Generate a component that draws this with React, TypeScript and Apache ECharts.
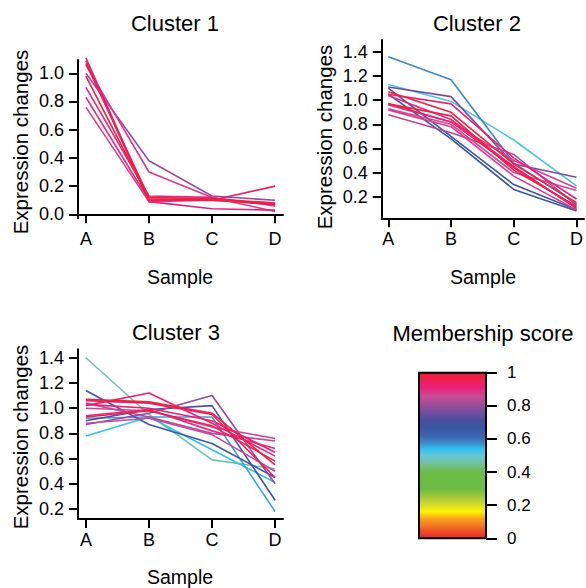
import React, { useEffect, useRef } from 'react';
import * as echarts from 'echarts';

const SAMPLES = ['A', 'B', 'C', 'D'];

// Cluster 1 profiles (A, B, C, D) and membership scores
const CLUSTER1_PROFILES = [
  [1.11, 0.10, 0.10, 0.20],
  [1.09, 0.09, 0.04, 0.03],
  [1.07, 0.12, 0.11, 0.08],
  [1.00, 0.38, 0.13, 0.10],
  [0.98, 0.11, 0.10, 0.07],
  [0.90, 0.13, 0.12, 0.06],
  [0.83, 0.10, 0.11, 0.07],
  [0.76, 0.09, 0.10, 0.08],
  [1.06, 0.30, 0.12, 0.02],
];
const CLUSTER1_MEMBERSHIP = [0.93, 0.92, 0.96, 0.8, 1.0, 0.9, 0.89, 0.87, 0.88];

const CLUSTER2_PROFILES = [
  [1.36, 1.17, 0.48, 0.14],
  [1.13, 0.99, 0.67, 0.29],
  [1.11, 1.03, 0.47, 0.36],
  [1.10, 0.70, 0.30, 0.09],
  [1.05, 0.68, 0.26, 0.08],
  [1.07, 0.90, 0.47, 0.15],
  [1.05, 0.97, 0.52, 0.18],
  [1.04, 0.84, 0.45, 0.10],
  [0.97, 0.87, 0.42, 0.12],
  [0.96, 0.82, 0.50, 0.27],
  [0.93, 0.80, 0.40, 0.25],
  [0.92, 0.78, 0.37, 0.09],
  [0.88, 0.73, 0.55, 0.13],
  [0.97, 0.82, 0.44, 0.11],
];
const CLUSTER2_MEMBERSHIP = [0.58, 0.52, 0.76, 0.68, 0.67, 1.0, 0.92, 0.9, 0.97, 0.87, 0.85, 0.88, 0.83, 0.95];

const CLUSTER3_PROFILES = [
  [1.40, 0.95, 0.59, 0.52],
  [1.14, 0.87, 0.72, 0.45],
  [0.78, 0.93, 0.67, 0.41],
  [0.92, 0.93, 0.93, 0.18],
  [0.90, 0.99, 1.02, 0.27],
  [0.87, 0.96, 1.10, 0.40],
  [1.02, 1.12, 0.88, 0.62],
  [1.07, 1.05, 0.96, 0.55],
  [1.06, 1.04, 0.95, 0.45],
  [1.00, 0.98, 0.85, 0.76],
  [1.04, 0.93, 0.80, 0.74],
  [0.94, 0.99, 0.82, 0.68],
  [0.93, 0.98, 0.86, 0.58],
  [1.03, 1.00, 0.90, 0.65],
  [0.88, 0.92, 0.79, 0.50],
];
const CLUSTER3_MEMBERSHIP = [0.47, 0.66, 0.54, 0.56, 0.7, 0.79, 0.92, 0.98, 0.95, 0.86, 0.84, 0.9, 0.97, 0.93, 0.85];

const Y_TICKS_1 = [0, 0.2, 0.4, 0.6, 0.8, 1.0];
const Y_TICKS_2 = [0.2, 0.4, 0.6, 0.8, 1.0, 1.2, 1.4];
const Y_TICKS_3 = [0.2, 0.4, 0.6, 0.8, 1.0, 1.2, 1.4];
const LEGEND_TICKS = [0, 0.2, 0.4, 0.6, 0.8, 1];

const PALETTE: [number, string][] = [
  [0.0, '#e8262a'], [0.04, '#ee4d27'], [0.08, '#f47a22'], [0.12, '#f9a51b'],
  [0.16, '#fff200'], [0.2, '#d7dc2a'], [0.25, '#a4c838'], [0.3, '#6cbb44'],
  [0.4, '#6bbd45'], [0.45, '#72c19a'], [0.5, '#66c8d8'], [0.54, '#30c0ef'],
  [0.58, '#3d85c6'], [0.62, '#3b63ad'], [0.67, '#3a55a4'], [0.72, '#4d4f9f'],
  [0.77, '#7c4c9e'], [0.81, '#a14d9a'], [0.86, '#cc4a95'], [0.91, '#ea1f7a'],
  [0.96, '#ee1f50'], [1.0, '#ef2037'],
];

function hexToRgb(h: string) {
  const n = parseInt(h.slice(1), 16);
  return [(n >> 16) & 255, (n >> 8) & 255, n & 255];
}
function colorFor(m: number) {
  for (let i = 1; i < PALETTE.length; i++) {
    const [v1, c1] = PALETTE[i];
    const [v0, c0] = PALETTE[i - 1];
    if (m <= v1) {
      const t = (m - v0) / (v1 - v0);
      const a = hexToRgb(c0), b = hexToRgb(c1);
      const r = a.map((x, k) => Math.round(x + (b[k] - x) * t));
      return `rgb(${r[0]},${r[1]},${r[2]})`;
    }
  }
  return PALETTE[PALETTE.length - 1][1];
}

const FONT = '"Liberation Sans", Arial, Helvetica, sans-serif';

export default function App() {
  const ref = useRef<HTMLDivElement>(null);
  useEffect(() => {
    const chart = echarts.init(ref.current!, null, { renderer: 'svg' });

    const panels = [
      { profiles: CLUSTER1_PROFILES, members: CLUSTER1_MEMBERSHIP, ticks: Y_TICKS_1, title: 'Cluster 1',
        grid: { left: 78, top: 60, width: 205, height: 158.3 }, xr: [0.875, 4.125], yr: [-0.028, 1.094],
        titlePos: [175, 23], xNamePos: [180, 277], yNamePos: [20, 142] },
      { profiles: CLUSTER2_PROFILES, members: CLUSTER2_MEMBERSHIP, ticks: Y_TICKS_2, title: 'Cluster 2',
        grid: { left: 381.7, top: 40, width: 203.5, height: 178.3 }, xr: [0.895, 4.12], yr: [0.02, 1.5],
        titlePos: [477, 23], xNamePos: [483, 277], yNamePos: [324, 137] },
      { profiles: CLUSTER3_PROFILES, members: CLUSTER3_MEMBERSHIP, ticks: Y_TICKS_3, title: 'Cluster 3',
        grid: { left: 78, top: 349.3, width: 205, height: 169.7 }, xr: [0.875, 4.125], yr: [0.121, 1.467],
        titlePos: [176, 332], xNamePos: [180, 577], yNamePos: [20, 437] },
    ];

    const axisLine = { show: true, lineStyle: { color: '#000', width: 2 } };
    const tickStyle = { color: '#000', width: 2 };
    const labelStyle = { color: '#000', fontFamily: FONT, fontSize: 18 };

    const grids: any[] = [];
    const xAxes: any[] = [];
    const yAxes: any[] = [];
    const series: any[] = [];
    const graphics: any[] = [];

    panels.forEach((p, gi) => {
      grids.push({ ...p.grid });
      xAxes.push({
        type: 'value', gridIndex: gi, min: p.xr[0], max: p.xr[1],
        axisLine, splitLine: { show: false },
        axisTick: { show: true, customValues: [1, 2, 3, 4], length: 9, lineStyle: tickStyle },
        axisLabel: { ...labelStyle, customValues: [1, 2, 3, 4], margin: 12,
          formatter: (v: number) => SAMPLES[Math.round(v) - 1] },
      });
      yAxes.push({
        type: 'value', gridIndex: gi, min: p.yr[0], max: p.yr[1],
        axisLine, splitLine: { show: false },
        axisTick: { show: true, customValues: p.ticks, length: 9, lineStyle: tickStyle },
        axisLabel: { ...labelStyle, customValues: p.ticks, margin: 14,
          formatter: (v: number) => v.toFixed(1) },
      });
      const order = p.members.map((m, i) => i).sort((a, b) => p.members[a] - p.members[b]);
      order.forEach((i) => {
        series.push({
          type: 'line', xAxisIndex: gi, yAxisIndex: gi, clip: false, symbol: 'none', silent: true,
          lineStyle: { color: colorFor(p.members[i]), width: 1.6 },
          data: p.profiles[i].map((v, k) => [k + 1, v]),
        });
      });
      graphics.push({ type: 'text', x: p.titlePos[0], y: p.titlePos[1],
        style: { text: p.title, fontSize: 22, fontFamily: FONT, fill: '#000', align: 'center', verticalAlign: 'middle', textAlign: 'center', textVerticalAlign: 'middle' } });
      graphics.push({ type: 'text', x: p.xNamePos[0], y: p.xNamePos[1],
        style: { text: 'Sample', fontSize: 19.5, fontFamily: FONT, fill: '#000', align: 'center', verticalAlign: 'middle', textAlign: 'center', textVerticalAlign: 'middle' } });
      graphics.push({ type: 'text', x: p.yNamePos[0], y: p.yNamePos[1], rotation: Math.PI / 2,
        style: { text: 'Expression changes', fontSize: 20.5, fontFamily: FONT, fill: '#000', align: 'center', verticalAlign: 'middle', textAlign: 'center', textVerticalAlign: 'middle' } });
    });

    // colour bar
    const cb = { left: 419, top: 372.7, width: 67, height: 165.6 };
    graphics.push({
      type: 'rect', shape: { x: cb.left, y: cb.top, width: cb.width, height: cb.height },
      style: {
        fill: new echarts.graphic.LinearGradient(0, 1, 0, 0, PALETTE.map(([o, c]) => ({ offset: o, color: c }))),
        stroke: '#000', lineWidth: 2,
      },
    });
    // colour bar axis (ticks and labels on the right side of the bar)
    grids.push({ left: cb.left + cb.width, top: cb.top, width: 11, height: cb.height });
    xAxes.push({ type: 'value', gridIndex: 3, show: false, min: 0, max: 1 });
    yAxes.push({
      type: 'value', gridIndex: 3, min: 0, max: 1, position: 'left',
      axisLine: { show: false }, splitLine: { show: false },
      axisTick: { show: true, inside: true, customValues: LEGEND_TICKS, length: 11, lineStyle: { color: '#000', width: 2 } },
      axisLabel: { ...labelStyle, fontSize: 17, inside: true, customValues: LEGEND_TICKS, margin: 21,
        formatter: (v: number) => (v === 0 || v === 1 ? String(v) : v.toFixed(1)) },
    });
    graphics.push({ type: 'text', x: 483, y: 333,
      style: { text: 'Membership score', fontSize: 22, fontFamily: FONT, fill: '#000', align: 'center', verticalAlign: 'middle', textAlign: 'center', textVerticalAlign: 'middle' } });

    chart.setOption({
      animation: false,
      backgroundColor: '#fff',
      grid: grids,
      xAxis: xAxes,
      yAxis: yAxes,
      series,
      graphic: graphics,
    });
    return () => chart.dispose();
  }, []);
  return <div ref={ref} style={{ position: 'fixed', left: 0, top: 0, width: 586, height: 588 }} />;
}
